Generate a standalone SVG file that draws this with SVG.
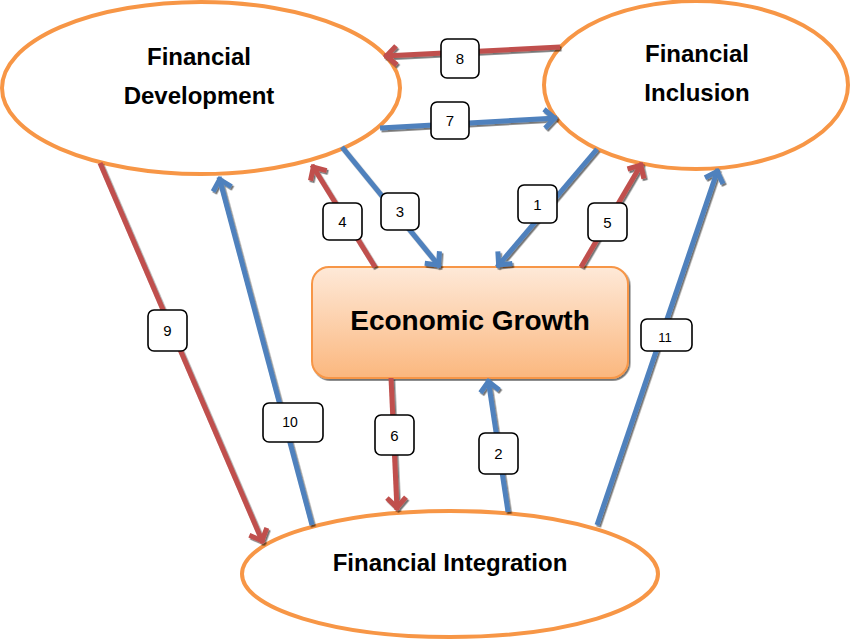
<svg xmlns="http://www.w3.org/2000/svg" width="850" height="639" viewBox="0 0 850 639">
<defs>
<linearGradient id="eg" x1="0" y1="0" x2="0" y2="1">
<stop offset="0" stop-color="#fee9d8"/>
<stop offset="1" stop-color="#fbb77e"/>
</linearGradient>
<filter id="sh" x="-10%" y="-10%" width="120%" height="120%">
<feDropShadow dx="1.5" dy="1.8" stdDeviation="0.7" flood-color="#000" flood-opacity="0.55"/>
</filter>
<marker id="ab" markerUnits="userSpaceOnUse" viewBox="-16 -12 20 24" refX="0" refY="0" markerWidth="20" markerHeight="24" orient="auto" overflow="visible">
<path d="M-12.5,-9.5 L-2.5,0 L-12.5,9.5" fill="none" stroke="#4f81bd" stroke-width="5"/>
</marker>
<marker id="ar" markerUnits="userSpaceOnUse" viewBox="-16 -12 20 24" refX="0" refY="0" markerWidth="20" markerHeight="24" orient="auto" overflow="visible">
<path d="M-12.5,-9.5 L-2.5,0 L-12.5,9.5" fill="none" stroke="#c0504d" stroke-width="5"/>
</marker>
</defs>
<style>
.ell{fill:#fff;stroke:#f79646;stroke-width:4}
.nt{font-family:"Liberation Sans",Arial,sans-serif;font-weight:bold;font-size:24px;fill:#000;text-anchor:middle}
.b{stroke:#4f81bd;stroke-width:5;fill:none;marker-end:url(#ab)}
.r{stroke:#c0504d;stroke-width:5;fill:none;marker-end:url(#ar)}
.lb{fill:#fff;stroke:#000;stroke-width:1.6}
.lt{font-family:"Liberation Sans",Arial,sans-serif;font-size:15px;fill:#000;text-anchor:middle}
</style>
<rect width="850" height="639" fill="#fff"/>
<g id="financial-development">
<ellipse class="ell" cx="201" cy="88" rx="199" ry="86"/>
<text class="nt" x="199" y="65">Financial</text>
<text class="nt" x="199" y="104">Development</text>
</g>
<g id="financial-inclusion">
<ellipse class="ell" cx="696" cy="85" rx="152" ry="84"/>
<text class="nt" x="697" y="62">Financial</text>
<text class="nt" x="697" y="101">Inclusion</text>
</g>
<g id="financial-integration">
<ellipse class="ell" cx="450" cy="574" rx="208" ry="63"/>
<text class="nt" x="450" y="571">Financial Integration</text>
</g>
<g id="economic-growth">
<rect x="312" y="267" width="316" height="111" rx="17" fill="url(#eg)" stroke="#f79646" stroke-width="2" filter="url(#sh)"/>
<text class="nt" x="470" y="330" style="font-size:28px">Economic Growth</text>
</g>
<g id="connectors" filter="url(#sh)">
<line class="r" x1="560" y1="47" x2="384" y2="56"/>
<line class="b" x1="380" y1="128" x2="557" y2="118"/>
<line class="r" x1="375" y1="267" x2="312" y2="165"/>
<line class="b" x1="342" y1="147" x2="440" y2="267"/>
<line class="b" x1="597" y1="149" x2="497" y2="267"/>
<line class="r" x1="581" y1="267" x2="642" y2="163"/>
<line class="r" x1="391" y1="378" x2="397" y2="510"/>
<line class="b" x1="508" y1="512" x2="488" y2="379"/>
<line class="r" x1="100" y1="163" x2="263" y2="543"/>
<line class="b" x1="312" y1="525" x2="219" y2="177"/>
<line class="b" x1="597" y1="525" x2="718" y2="169"/>
</g>
<g id="labels">
<g id="label-1"><rect class="lb" x="518" y="185" width="39" height="38" rx="6"/><text class="lt" x="537.5" y="209.5">1</text></g>
<g id="label-2"><rect class="lb" x="479" y="433" width="39" height="41" rx="6"/><text class="lt" x="498.5" y="459">2</text></g>
<g id="label-3"><rect class="lb" x="381" y="193" width="38" height="37" rx="6"/><text class="lt" x="400" y="217">3</text></g>
<g id="label-4"><rect class="lb" x="323" y="203" width="39" height="37" rx="6"/><text class="lt" x="342.5" y="227">4</text></g>
<g id="label-5"><rect class="lb" x="588" y="203" width="39" height="38" rx="6"/><text class="lt" x="607.5" y="227.5">5</text></g>
<g id="label-6"><rect class="lb" x="375" y="415" width="39" height="40" rx="6"/><text class="lt" x="394.5" y="440.5">6</text></g>
<g id="label-7"><rect class="lb" x="431" y="102" width="38" height="37" rx="6"/><text class="lt" x="450" y="126">7</text></g>
<g id="label-8"><rect class="lb" x="441" y="39" width="38" height="39" rx="6"/><text class="lt" x="460" y="64">8</text></g>
<g id="label-9"><rect class="lb" x="148" y="310" width="39" height="41" rx="6"/><text class="lt" x="167.5" y="336">9</text></g>
<g id="label-10"><rect class="lb" x="263" y="403" width="60" height="39" rx="6"/><text class="lt" x="290" y="427" style="font-size:14px">10</text></g>
<g id="label-11"><rect class="lb" x="641" y="319" width="51" height="32" rx="6"/><text class="lt" x="665" y="342" style="font-size:13px">11</text></g>
</g>
</svg>
